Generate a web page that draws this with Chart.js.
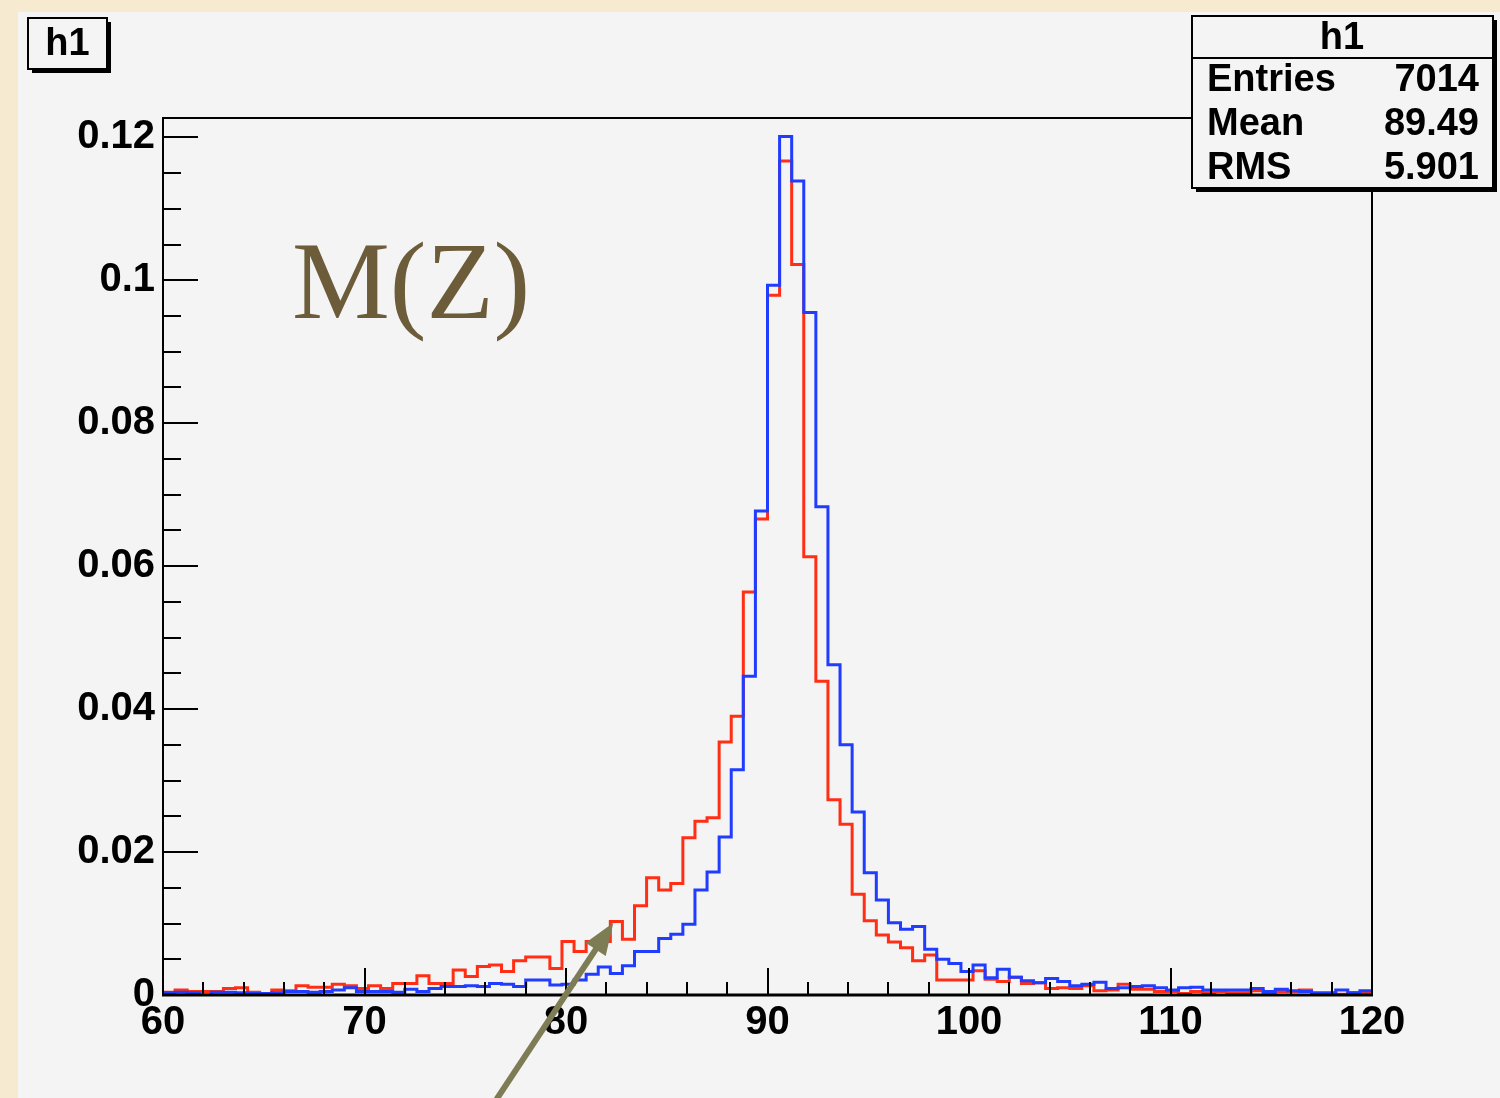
<!DOCTYPE html>
<html><head><meta charset="utf-8">
<script src="https://cdn.jsdelivr.net/npm/chart.js@4/dist/chart.umd.min.js"></script>
<style>html,body{margin:0;padding:0;background:#f6ead0;overflow:hidden}#wrap{width:1500px;height:1098px;position:relative}canvas{display:block}</style>
</head><body><div id="wrap"><canvas id="c" width="1500" height="1098"></canvas></div>
<script>
const X_MIN = 60, X_MAX = 120, BIN_WIDTH = 0.6;
const Y_MIN = 0, Y_MAX = 0.1227;
const xMajorStep = 10, xMinorStep = 2;
const yMajorStep = 0.02, yMinorStep = 0.005;

// red histogram (normalised), 100 bins of 0.6 from 60 to 120
const redValues = [
 0.0004,0.0007,0.0005,0.0005,0.0005,0.0009,0.0010,0.0004,0.0002,0.0007,
 0.0006,0.0013,0.0011,0.0011,0.0015,0.0013,0.0009,0.0013,0.0009,0.0016,
 0.0016,0.0027,0.0016,0.0016,0.0035,0.0026,0.0040,0.0042,0.0033,0.0048,
 0.0053,0.0053,0.0037,0.0075,0.0061,0.0075,0.0075,0.0103,0.0078,0.0125,
 0.0164,0.0147,0.0156,0.0220,0.0243,0.0248,0.0354,0.0390,0.0564,0.0666,
 0.0979,0.1167,0.1022,0.0613,0.0439,0.0273,0.0239,0.0141,0.0104,0.0084,
 0.0074,0.0066,0.0048,0.0056,0.0021,0.0021,0.0021,0.0034,0.0022,0.0019,
 0.0025,0.0016,0.0017,0.0009,0.0010,0.0009,0.0013,0.0006,0.0007,0.0015,
 0.0008,0.0008,0.0005,0.0005,0.0002,0.0005,0.0003,0.0005,0.0003,0.0003,
 0.0006,0.0003,0.0005,0.0005,0.0007,0.0002,0.0002,0.0001,0.0003,0.0002
];
// blue histogram
const blueValues = [
 0.0003,0.0004,0.0003,0.0000,0.0004,0.0004,0.0003,0.0002,0.0002,0.0003,
 0.0005,0.0005,0.0004,0.0005,0.0007,0.0010,0.0005,0.0005,0.0005,0.0004,
 0.0008,0.0005,0.0009,0.0012,0.0012,0.0013,0.0012,0.0016,0.0015,0.0012,
 0.0021,0.0021,0.0014,0.0015,0.0021,0.0029,0.0039,0.0030,0.0041,0.0061,
 0.0061,0.0079,0.0085,0.0099,0.0147,0.0172,0.0221,0.0315,0.0446,0.0677,
 0.0993,0.1201,0.1139,0.0955,0.0683,0.0462,0.0350,0.0256,0.0171,0.0133,
 0.0101,0.0092,0.0096,0.0064,0.0050,0.0044,0.0033,0.0042,0.0024,0.0036,
 0.0025,0.0020,0.0017,0.0023,0.0019,0.0013,0.0015,0.0018,0.0009,0.0010,
 0.0012,0.0013,0.0010,0.0007,0.0010,0.0011,0.0007,0.0007,0.0007,0.0007,
 0.0009,0.0005,0.0008,0.0006,0.0005,0.0003,0.0003,0.0007,0.0003,0.0006
];

const histTitle = 'h1';
const statsLabels = ['Entries', 'Mean', 'RMS'];
const statsValues = ['7014', '89.49', '5.901'];
const annotationText = 'M(Z)';

function toSteps(vals) {
  const pts = vals.map((v, i) => ({ x: X_MIN + i * BIN_WIDTH, y: v }));
  pts.push({ x: X_MIN + vals.length * BIN_WIDTH, y: vals[vals.length - 1] });
  return pts;
}

const FONT = '"Liberation Sans", Arial, Helvetica, sans-serif';

const decor = {
  id: 'rootDecor',
  beforeDraw(chart) {
    const ctx = chart.ctx;
    ctx.save();
    ctx.fillStyle = '#f6ead0';
    ctx.fillRect(0, 0, chart.width, chart.height);
    ctx.fillStyle = '#f4f4f4';
    ctx.fillRect(18, 12, chart.width - 18, chart.height - 12);
    ctx.restore();
  },
  afterDatasetsDraw(chart) {
    const ctx = chart.ctx, xs = chart.scales.x, ys = chart.scales.y, a = chart.chartArea;
    ctx.save();
    // frame
    ctx.strokeStyle = '#000';
    ctx.lineWidth = 2;
    ctx.strokeRect(a.left, a.top, a.right - a.left, a.bottom - a.top);
    ctx.lineWidth = 3;
    ctx.beginPath(); ctx.moveTo(a.left - 1, a.bottom); ctx.lineTo(a.right + 1, a.bottom); ctx.stroke();
    ctx.lineWidth = 2;
    ctx.beginPath(); ctx.moveTo(a.left, a.top); ctx.lineTo(a.left, a.bottom); ctx.stroke();
    // x ticks (inward)
    ctx.lineWidth = 2;
    for (let v = X_MIN; v <= X_MAX + 1e-9; v += xMinorStep) {
      const px = Math.round(xs.getPixelForValue(v));
      const major = Math.abs(v / xMajorStep - Math.round(v / xMajorStep)) < 1e-6;
      const len = major ? 27 : 13;
      ctx.beginPath(); ctx.moveTo(px, a.bottom); ctx.lineTo(px, a.bottom - len); ctx.stroke();
    }
    // y ticks
    for (let k = 0; k * yMinorStep <= Y_MAX + 1e-9; k++) {
      const v = k * yMinorStep;
      const py = Math.round(ys.getPixelForValue(v));
      const major = k % Math.round(yMajorStep / yMinorStep) === 0;
      const len = major ? 35 : 18;
      ctx.beginPath(); ctx.moveTo(a.left, py); ctx.lineTo(a.left + len, py); ctx.stroke();
    }
    // M(Z) text
    ctx.fillStyle = '#6c5c3a';
    ctx.font = '110px "Liberation Serif", "Times New Roman", serif';
    ctx.textBaseline = 'alphabetic';
    ctx.textAlign = 'left';
    ctx.fillText(annotationText, xs.getPixelForValue(66.4), ys.getPixelForValue(0.0947));
    // arrow
    const tx = xs.getPixelForValue(82.35), ty = ys.getPixelForValue(0.0101);
    const sx = xs.getPixelForValue(76.55), sy = ys.getPixelForValue(-0.0146);
    const ang = Math.atan2(ty - sy, tx - sx);
    const hl = 32, hw = 12;
    ctx.strokeStyle = '#7e7c55';
    ctx.fillStyle = '#7e7c55';
    ctx.lineWidth = 6;
    ctx.beginPath();
    ctx.moveTo(sx, sy);
    ctx.lineTo(tx - Math.cos(ang) * (hl - 4), ty - Math.sin(ang) * (hl - 4));
    ctx.stroke();
    const bx = tx - Math.cos(ang) * hl, by = ty - Math.sin(ang) * hl;
    ctx.beginPath();
    ctx.moveTo(tx, ty);
    ctx.lineTo(bx + Math.sin(ang) * hw, by - Math.cos(ang) * hw);
    ctx.lineTo(bx - Math.sin(ang) * hw, by + Math.cos(ang) * hw);
    ctx.closePath();
    ctx.fill();
    ctx.restore();
  },
  afterDraw(chart) {
    const ctx = chart.ctx;
    ctx.save();
    function box(x, y, w, h) {
      ctx.fillStyle = '#000';
      ctx.fillRect(x + 4, y + 4, w, h);
      ctx.fillStyle = '#f4f4f4';
      ctx.fillRect(x, y, w, h);
      ctx.strokeStyle = '#000';
      ctx.lineWidth = 2;
      ctx.strokeRect(x, y, w, h);
    }
    // title box
    box(28, 18, 79, 51);
    ctx.fillStyle = '#000';
    ctx.font = 'bold 38px ' + FONT;
    ctx.textAlign = 'center';
    ctx.textBaseline = 'middle';
    ctx.fillText(histTitle, 67.5, 45);
    // stats box
    box(1192, 16, 301, 172);
    ctx.beginPath(); ctx.moveTo(1192, 58); ctx.lineTo(1493, 58); ctx.stroke();
    ctx.fillStyle = '#000';
    ctx.textAlign = 'center';
    ctx.fillText(histTitle, 1342, 39);
    const rowsY = [81, 125, 169];
    statsLabels.forEach((t, i) => {
      ctx.textAlign = 'left';
      ctx.fillText(t, 1207, rowsY[i]);
      ctx.textAlign = 'right';
      ctx.fillText(statsValues[i], 1479, rowsY[i]);
    });
    ctx.restore();
  }
};

new Chart(document.getElementById('c'), {
  type: 'line',
  data: {
    datasets: [
      { label: 'blue', data: toSteps(blueValues), borderColor: '#1f3cff', borderWidth: 3, stepped: 'before', pointRadius: 0, fill: false, tension: 0 },
      { label: 'red', data: toSteps(redValues), borderColor: '#ff2e14', borderWidth: 3, stepped: 'before', pointRadius: 0, fill: false, tension: 0 }
    ]
  },
  options: {
    responsive: false,
    animation: false,
    events: [],
    layout: { padding: { left: 0, right: 128, top: 118, bottom: 0 } },
    plugins: { legend: { display: false }, tooltip: { enabled: false }, title: { display: false } },
    scales: {
      x: {
        type: 'linear', min: X_MIN, max: X_MAX,
        grid: { display: false, drawTicks: false },
        border: { display: false },
        ticks: { stepSize: xMajorStep, includeBounds: false, padding: 4, color: '#000', maxRotation: 0, autoSkip: false,
                 font: { family: FONT, weight: 'bold', size: 40 } },
        afterFit(s) { s.height = 103; }
      },
      y: {
        type: 'linear', min: Y_MIN, max: Y_MAX,
        grid: { display: false, drawTicks: false },
        border: { display: false },
        ticks: { stepSize: yMajorStep, includeBounds: false, padding: 8, color: '#000',
                 font: { family: FONT, weight: 'bold', size: 40 },
                 callback: v => String(Number(v.toFixed(3))) },
        afterFit(s) { s.width = 163; }
      }
    }
  },
  plugins: [decor]
});
</script>
</body></html>
